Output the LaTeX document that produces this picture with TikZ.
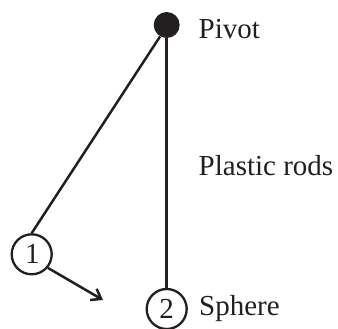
\documentclass[tikz,border=0pt]{standalone}
\usepackage{fontspec}
\setmainfont{Liberation Serif}
\usetikzlibrary{arrows.meta}
\definecolor{ink}{RGB}{35,31,32}
\tikzset{
  ball/.style={circle,draw=ink,line width=2.3pt,minimum size=40pt,inner sep=0pt,text=ink,font=\fontsize{29}{29}\selectfont},
  pivotdot/.style={circle,fill=ink,draw=none,minimum size=26pt,inner sep=0pt},
  rod/.style={draw=ink,line width=2.5pt},
  lab/.style={anchor=base west,inner sep=0pt,text=ink,font=\fontsize{29}{29}\selectfont},
}
\begin{document}
\begin{tikzpicture}[x=1pt,y=-1pt]
\useasboundingbox (0,0) rectangle (338,329);
\node[pivotdot] (p) at (166.7,25) {};
\node[ball] (a) at (31.7,254.3) {\hspace{1.5pt}1};
\node[ball] (b) at (166.7,309) {2};
\coordinate (tip) at (103,300);
\draw[rod] (p.240) -- (a.north);
\draw[rod] (p.south) -- (b.north);
\draw[rod,-{Straight Barb[length=9pt,width=13pt]}] (a.-40) -- (tip);
\node[lab] (t1) at (198.5,38.5) {Pivot};
\node[lab] (t2) at (198.5,175.5) {Plastic rods};
\node[lab] (t3) at (199,315) {Sphere};
\end{tikzpicture}
\end{document}
